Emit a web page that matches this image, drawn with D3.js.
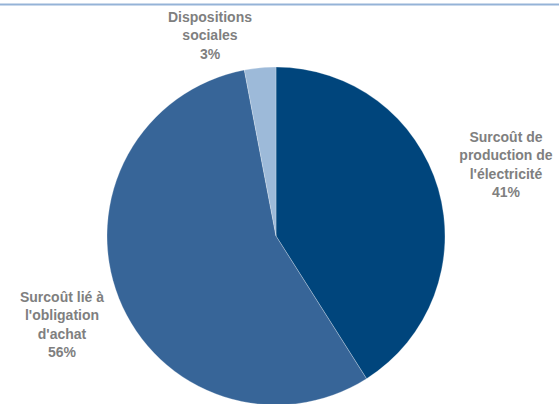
<!DOCTYPE html>
<html>
<head>
<meta charset="utf-8">
<script src="https://cdn.jsdelivr.net/npm/d3@7"></script>
<style>
  body { margin: 0; background: #fff; }
  .lbl { font-family: "Liberation Sans", Arial, sans-serif; font-weight: bold; font-size: 14px; fill: #7f7f7f; }
</style>
</head>
<body>
<div id="chart"></div>
<script>
const width = 559, height = 404;

// données
const categories = ["Surcoût de production de l'électricité", "Surcoût lié à l'obligation d'achat", "Dispositions sociales"];
const values = [41, 56, 3];
const colors = ["#00457c", "#376598", "#9dbad9"];
// étiquettes découpées en lignes + position du centre
const labelLines = [
  ["Surcoût de", "production de", "l'électricité", "41%"],
  ["Surcoût lié à", "l'obligation", "d'achat", "56%"],
  ["Dispositions", "sociales", "3%"]
];
const labelPos = [[506, 137], [62, 297], [210, 17]];

const cx = 276, cy = 236, radius = 169;

const svg = d3.select("#chart").append("svg")
  .attr("width", width).attr("height", height);

// ligne du haut
svg.append("line")
  .attr("x1", 0).attr("x2", width).attr("y1", 4.5).attr("y2", 4.5)
  .attr("stroke", "#95b3d7").attr("stroke-width", 2);

const pie = d3.pie().sort(null).value(d => d);
const arc = d3.arc().innerRadius(0).outerRadius(radius);

const g = svg.append("g").attr("transform", `translate(${cx},${cy})`);
g.selectAll("path").data(pie(values)).join("path")
  .attr("d", arc)
  .attr("fill", (d, i) => colors[i])
  .attr("stroke", "#ffffff").attr("stroke-opacity", 0.35).attr("stroke-width", 0.75);

labelLines.forEach((lines, i) => {
  const t = svg.append("text").attr("class", "lbl")
    .attr("text-anchor", "middle")
    .attr("x", labelPos[i][0]).attr("y", labelPos[i][1]);
  lines.forEach((s, j) => {
    t.append("tspan").attr("x", labelPos[i][0])
      .attr("dy", j === 0 ? "0.35em" : 18.3).text(s);
  });
});
</script>
</body>
</html>
